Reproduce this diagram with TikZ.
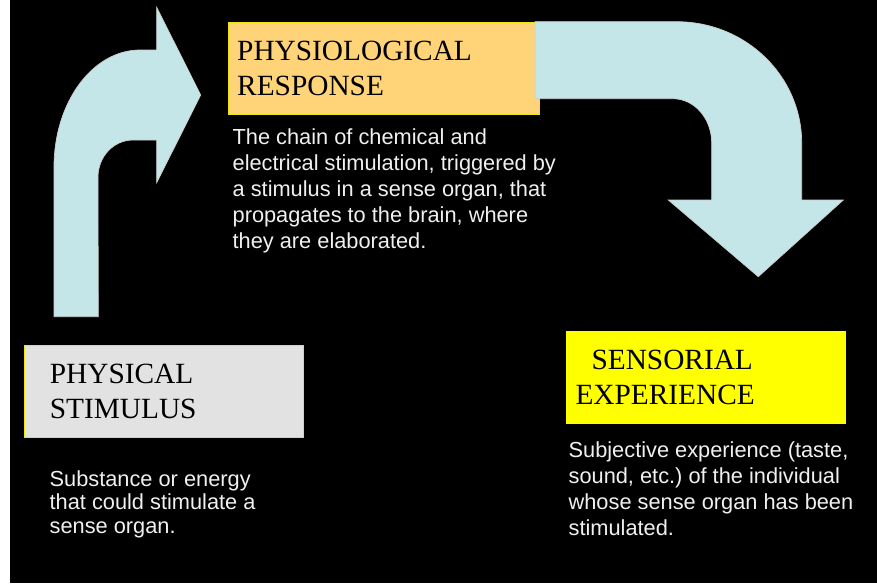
\documentclass[tikz,border=0pt]{standalone}
\usepackage{fontspec}
\setmainfont{Liberation Serif}
\setsansfont{Liberation Sans}
\usepackage{tikz}
\usetikzlibrary{positioning}
\definecolor{arrowblue}{RGB}{197,230,232}
\definecolor{respfill}{RGB}{255,212,121}
\definecolor{stimfill}{RGB}{226,226,226}
\definecolor{sensfill}{RGB}{255,255,0}
\definecolor{boxline}{RGB}{238,228,20}

\begin{document}
\begin{tikzpicture}[
    x=0.02cm, y=0.02cm,
    box/.style={rectangle, draw=boxline, line width=0.6pt, anchor=north west, minimum height=1.84cm, align=left, font=\rmfamily\fontsize{16.7}{20}\selectfont},
    note/.style={anchor=base west, inner sep=0pt, align=left, text=white!94!black, font=\sffamily\fontsize{12.4}{14.7}\selectfont},
    bigarrow/.style={fill=arrowblue, draw=white!80!black, line width=0.4pt}
]
\useasboundingbox (0,0) rectangle (877,583);
\fill[white] (0,0) rectangle (877,583);
\fill[black] (10,0) rectangle (877,583);

% left arrow: stimulus up to response
\draw[bigarrow] (54,266.3) -- (54,416) arc[start angle=180, end angle=90, x radius=86, y radius=117]
    -- (156.7,533) -- (156.7,575.7) -- (200.7,488) -- (156.7,400.3) -- (156.7,443) -- (133,443)
    arc[start angle=90, end angle=180, x radius=35, y radius=37] -- (98.3,266.3) -- cycle;

\node[box, fill=respfill, text width=5.872cm, inner xsep=0.18cm] (resp) at (227.7,560.7) {PHYSIOLOGICAL\\RESPONSE};
\node[box, fill=stimfill, text width=4.58cm, inner xsep=0.5cm] (stim) at (24.3,238) {PHYSICAL\\STIMULUS};
\node[box, fill=sensfill, draw=sensfill, text width=5.22cm, inner xsep=0.18cm] (sens) at (566,252.3) {\hspace*{0.32cm}SENSORIAL\\EXPERIENCE};

% right arrow: response down to experience
\draw[bigarrow] (535,561.3) -- (676.7,561.3) arc[start angle=90, end angle=0, x radius=125, y radius=121.3]
    -- (801.7,383) -- (843.3,383) -- (758.3,306.3) -- (668.3,383) -- (711.7,383) -- (711.7,440)
    arc[start angle=0, end angle=90, x radius=38.7, y radius=44.3] -- (535,484.3) -- cycle;

% anchors sit on the last line
\node[note] (respnote) at (232.3,334.7) {The chain of chemical and\\electrical stimulation, triggered by\\a stimulus in a sense organ, that\\propagates to the brain, where\\they are elaborated.};
\node[note, font=\sffamily\fontsize{12.4}{13.4}\selectfont] (stimnote) at (49.3,49.7) {Substance or energy\\that could stimulate a\\sense organ.};
\node[note] (sensnote) at (568.3,48) {Subjective experience (taste,\\sound, etc.)\ of the individual\\whose sense organ has been\\stimulated.};
\end{tikzpicture}
\end{document}
